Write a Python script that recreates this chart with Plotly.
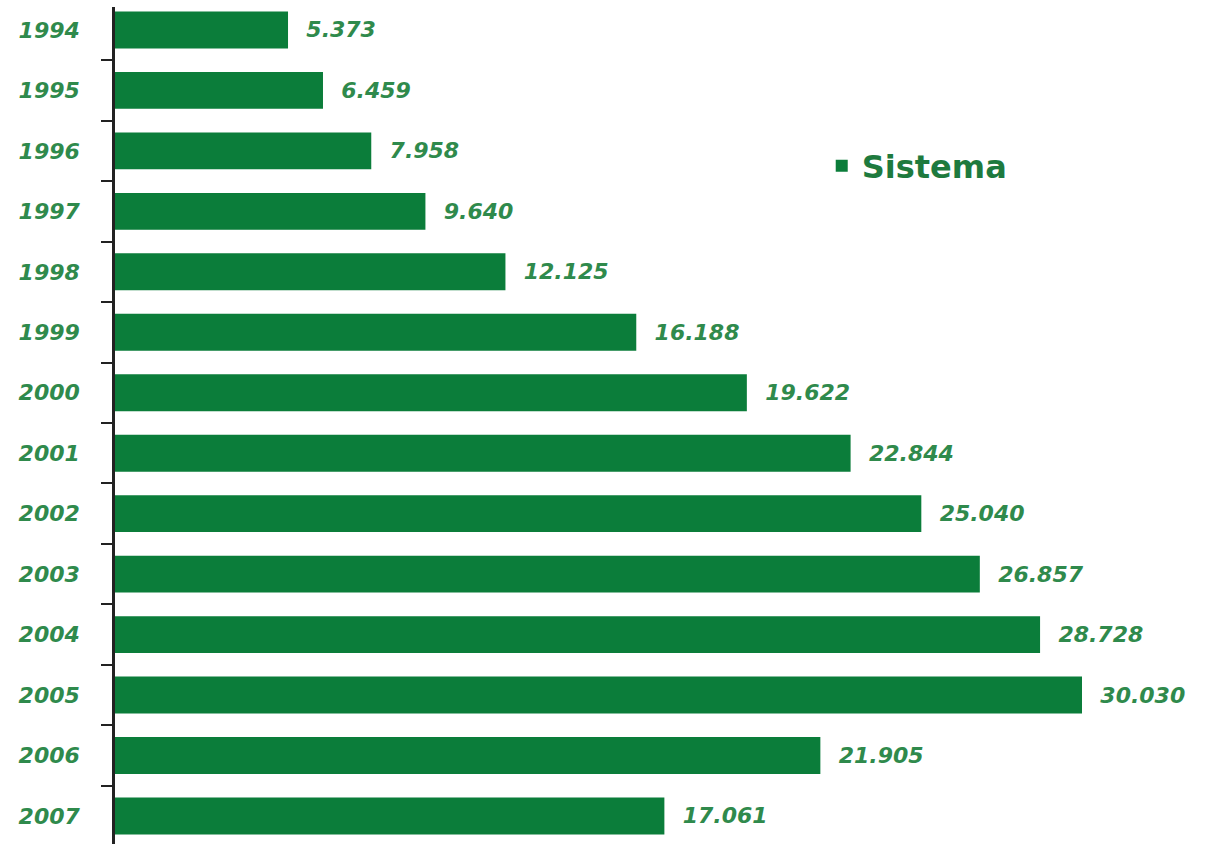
import plotly.graph_objects as go

years = ["1994", "1995", "1996", "1997", "1998", "1999", "2000",
         "2001", "2002", "2003", "2004", "2005", "2006", "2007"]
values = [5373, 6459, 7958, 9640, 12125, 16188, 19622,
          22844, 25040, 26857, 28728, 30030, 21905, 17061]
series_name = "Sistema"

BAR = "#0b7d3a"
TXT = "#2f8a4c"

labels = ["\u00a0\u00a0" + f"{v:,}".replace(",", ".") for v in values]
val_font = dict(family="DejaVu Sans", size=22, color=TXT,
                weight="bold", style="italic")
year_font = dict(family="DejaVu Sans", size=22, color=TXT,
                 weight="bold", style="italic")

fig = go.Figure()
fig.add_trace(go.Bar(
    y=years, x=values, orientation="h", name=series_name,
    marker=dict(color=BAR, line=dict(width=0)),
    width=0.61, showlegend=True,
    text=labels, textposition="outside", textangle=0,
    outsidetextfont=val_font, constraintext="none", cliponaxis=False,
))

fig.update_layout(
    width=1209, height=844,
    margin=dict(l=115, r=0, t=7, b=0, autoexpand=False),
    paper_bgcolor="white", plot_bgcolor="white",
    xaxis=dict(range=[0, 33974], visible=False, fixedrange=True,
               automargin=False),
    yaxis=dict(
        type="category", automargin=False,
        categoryorder="array", categoryarray=years,
        range=[13.464, -0.38],
        showline=True, linecolor="#222222", linewidth=2.5,
        ticks="outside", tickson="boundaries", ticklen=11, tickwidth=1.5,
        tickcolor="#222222", ticklabelstandoff=28,
        tickfont=year_font,
        showgrid=False, zeroline=False,
    ),
    legend=dict(x=0.646, y=0.843, xanchor="left", yanchor="top",
                bgcolor="rgba(0,0,0,0)",
                font=dict(family="DejaVu Sans", size=32, color="#1e7a3e",
                          weight="bold")),
)

fig.write_html("out.html", config={"displayModeBar": False},
               post_script="document.body.style.margin='0px';")
